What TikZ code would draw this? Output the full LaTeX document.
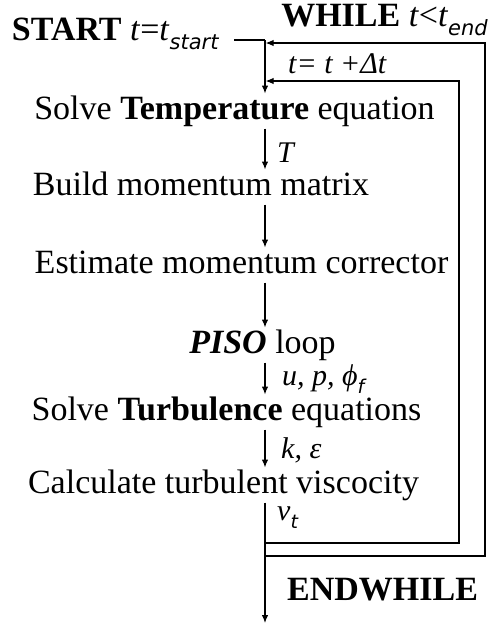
\documentclass[tikz,border=0pt]{standalone}
\usepackage{fontspec}
\setmainfont{Liberation Serif}
\newfontfamily\subfont{DejaVu Sans}
\usetikzlibrary{calc, arrows.meta}

\newcommand{\lowsub}[2][21]{\raisebox{-0.28em}{\subfont\itshape\fontsize{#1}{#1}\selectfont #2}}

\begin{document}
\begin{tikzpicture}[x=1pt, y=-1pt,
	stage/.style={anchor=base, inner sep=0pt, outer sep=2.5pt, text height=23pt, text depth=7pt, font=\fontsize{34}{40}\selectfont},
	keyword/.style={inner sep=0pt, font=\fontsize{34}{40}\selectfont},
	tag/.style={anchor=base west, inner sep=0pt, font=\fontsize{30}{34}\selectfont\itshape},
	flow/.style={-{Latex[length=8pt, width=6.5pt]}, line width=1.2pt},
	loop/.style={line width=1.2pt}]
	\def\sx{265}
	\def\innerx{459}
	\def\outerx{485}
	\useasboundingbox (0, 0) rectangle (491, 625);

	\coordinate (join) at (\sx, 40);
	\coordinate (outertop) at (\sx, 43);
	\coordinate (innertop) at (\sx, 81);
	\coordinate (innerbot) at (\sx, 543);
	\coordinate (outerbot) at (\sx, 556);
	\coordinate (finish) at (\sx, 623);
	\coordinate (innerside) at (\innerx, 0);
	\coordinate (outerside) at (\outerx, 0);

	\node[keyword, anchor=base west, outer sep=0pt] (start) at (12, 40) {\textbf{START} \textit{t}=\textit{t}\lowsub{start}};
	\node[keyword, anchor=base east] (while) at (488, 26) {\textbf{WHILE} \textit{t}<\textit{t}\lowsub{end}};
	\node[tag] (tstep) at (288, 73) {t= t +Δt};

	\node[stage] (temp) at (234.5, 119) {Solve \textbf{Temperature} equation};
	\node[stage] (build) at (201, 195) {Build momentum matrix};
	\node[stage] (estim) at (241.5, 273) {Estimate momentum corrector};
	\node[stage] (piso) at (262.5, 353) {\textbf{\textit{PISO}} loop};
	\node[stage] (turb) at (226.5, 420) {Solve \textbf{Turbulence} equations};
	\node[stage] (visc) at (223.5, 493) {Calculate turbulent viscocity};

	\node[tag] (tT) at (277, 162) {T};
	\node[tag] (tupf) at (282, 385) {u, p, ϕ\lowsub[19]{f}};
	\node[tag] (tke) at (281, 458) {k, ε};
	\node[tag] (tnu) at (277, 520) {ν\lowsub[19]{t}};
	\node[keyword, anchor=base west] (endw) at (287, 600) {\textbf{ENDWHILE}};

	\draw[loop] ($(start.east |- join) + (16, 0)$) -- (join);
	\draw[flow] (join) -- (temp.north -| join);
	\draw[flow] (temp.south -| join) -- (build.north -| join);
	\draw[flow] (build.south -| join) -- (estim.north -| join);
	\draw[flow] (estim.south -| join) -- (piso.north -| join);
	\draw[flow] (piso.south -| join) -- (turb.north -| join);
	\draw[flow] (turb.south -| join) -- (visc.north -| join);
	\draw[flow] (visc.south -| join) -- (finish);

	\draw[flow] (innerbot) -- (innerbot -| innerside) -- (innerside |- innertop) -- ($(innertop) + (0.6, 0)$);
	\draw[flow] (outerbot) -- (outerbot -| outerside) -- (outerside |- outertop) -- ($(outertop) + (0.6, 0)$);
\end{tikzpicture}
\end{document}
